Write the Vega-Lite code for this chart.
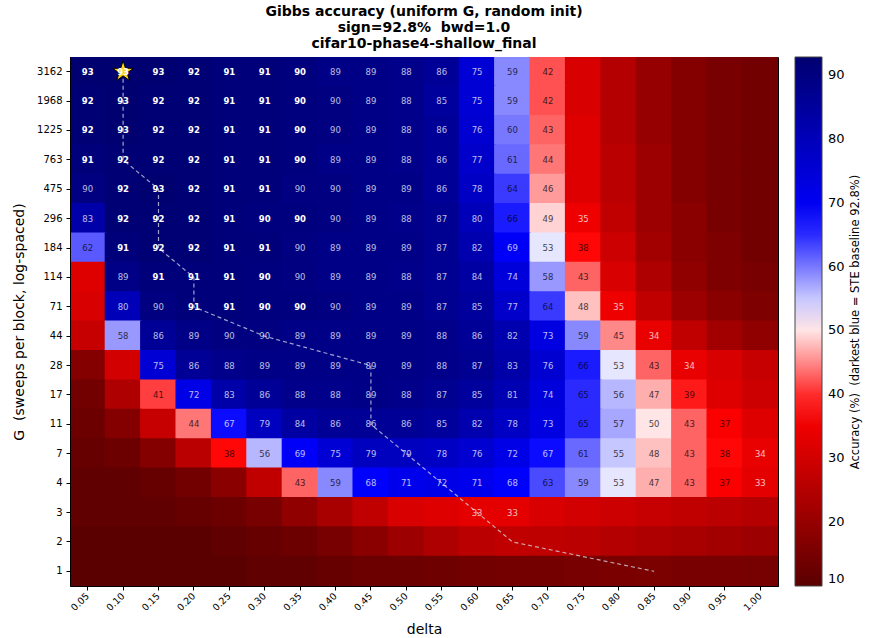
{
  "$schema": "https://vega.github.io/schema/vega-lite/v6.json",
  "width": 708,
  "height": 529,
  "autosize": {"type": "none"},
  "padding": {"left": 70, "top": 57, "right": 91, "bottom": 52},
  "background": "white",
  "config": {
    "font": "DejaVu Sans",
    "view": {"stroke": "black", "strokeWidth": 1},
    "axis": {"labelColor": "black", "tickColor": "black", "domainColor": "black", "titleColor": "black", "titleFontWeight": "normal", "grid": false, "tickSize": 4}
  },
  "title": {
    "text": ["Gibbs accuracy (uniform G, random init)", "sign=92.8%\u00a0 bwd=1.0", "cifar10-phase4-shallow_final"],
    "fontSize": 14, "fontWeight": "bold", "lineHeight": 16, "anchor": "middle", "offset": 6, "color": "black"
  },
  "datasets": {
    "cells": [
      {"G":3162,"d":"0.05","a":93},{"G":3162,"d":"0.10","a":93.2},{"G":3162,"d":"0.15","a":93},{"G":3162,"d":"0.20","a":92},{"G":3162,"d":"0.25","a":91},{"G":3162,"d":"0.30","a":91},{"G":3162,"d":"0.35","a":90.3},{"G":3162,"d":"0.40","a":89},{"G":3162,"d":"0.45","a":89},{"G":3162,"d":"0.50","a":88},{"G":3162,"d":"0.55","a":86},{"G":3162,"d":"0.60","a":75},{"G":3162,"d":"0.65","a":59},{"G":3162,"d":"0.70","a":42},{"G":3162,"d":"0.75","a":31},{"G":3162,"d":"0.80","a":25},{"G":3162,"d":"0.85","a":20},{"G":3162,"d":"0.90","a":17},{"G":3162,"d":"0.95","a":15},{"G":3162,"d":"1.00","a":14},
      {"G":1968,"d":"0.05","a":92},{"G":1968,"d":"0.10","a":93},{"G":1968,"d":"0.15","a":92},{"G":1968,"d":"0.20","a":92},{"G":1968,"d":"0.25","a":91},{"G":1968,"d":"0.30","a":91},{"G":1968,"d":"0.35","a":90.3},{"G":1968,"d":"0.40","a":89.8},{"G":1968,"d":"0.45","a":89},{"G":1968,"d":"0.50","a":88},{"G":1968,"d":"0.55","a":85},{"G":1968,"d":"0.60","a":75},{"G":1968,"d":"0.65","a":59},{"G":1968,"d":"0.70","a":42},{"G":1968,"d":"0.75","a":31},{"G":1968,"d":"0.80","a":25},{"G":1968,"d":"0.85","a":20},{"G":1968,"d":"0.90","a":17},{"G":1968,"d":"0.95","a":15},{"G":1968,"d":"1.00","a":14},
      {"G":1225,"d":"0.05","a":92},{"G":1225,"d":"0.10","a":93},{"G":1225,"d":"0.15","a":92},{"G":1225,"d":"0.20","a":92},{"G":1225,"d":"0.25","a":91},{"G":1225,"d":"0.30","a":91},{"G":1225,"d":"0.35","a":90.3},{"G":1225,"d":"0.40","a":89.8},{"G":1225,"d":"0.45","a":89},{"G":1225,"d":"0.50","a":88},{"G":1225,"d":"0.55","a":86},{"G":1225,"d":"0.60","a":76},{"G":1225,"d":"0.65","a":60},{"G":1225,"d":"0.70","a":43},{"G":1225,"d":"0.75","a":32},{"G":1225,"d":"0.80","a":25},{"G":1225,"d":"0.85","a":20},{"G":1225,"d":"0.90","a":17},{"G":1225,"d":"0.95","a":15},{"G":1225,"d":"1.00","a":14},
      {"G":763,"d":"0.05","a":91},{"G":763,"d":"0.10","a":92},{"G":763,"d":"0.15","a":92},{"G":763,"d":"0.20","a":92},{"G":763,"d":"0.25","a":91},{"G":763,"d":"0.30","a":91},{"G":763,"d":"0.35","a":90.3},{"G":763,"d":"0.40","a":89},{"G":763,"d":"0.45","a":89},{"G":763,"d":"0.50","a":88},{"G":763,"d":"0.55","a":86},{"G":763,"d":"0.60","a":77},{"G":763,"d":"0.65","a":61},{"G":763,"d":"0.70","a":44},{"G":763,"d":"0.75","a":32},{"G":763,"d":"0.80","a":26},{"G":763,"d":"0.85","a":21},{"G":763,"d":"0.90","a":17},{"G":763,"d":"0.95","a":15},{"G":763,"d":"1.00","a":14},
      {"G":475,"d":"0.05","a":89.8},{"G":475,"d":"0.10","a":92},{"G":475,"d":"0.15","a":93},{"G":475,"d":"0.20","a":92},{"G":475,"d":"0.25","a":91},{"G":475,"d":"0.30","a":91},{"G":475,"d":"0.35","a":89.8},{"G":475,"d":"0.40","a":89.8},{"G":475,"d":"0.45","a":89},{"G":475,"d":"0.50","a":89},{"G":475,"d":"0.55","a":86},{"G":475,"d":"0.60","a":78},{"G":475,"d":"0.65","a":64},{"G":475,"d":"0.70","a":46},{"G":475,"d":"0.75","a":32},{"G":475,"d":"0.80","a":26},{"G":475,"d":"0.85","a":21},{"G":475,"d":"0.90","a":17},{"G":475,"d":"0.95","a":15},{"G":475,"d":"1.00","a":14},
      {"G":296,"d":"0.05","a":83},{"G":296,"d":"0.10","a":92},{"G":296,"d":"0.15","a":92},{"G":296,"d":"0.20","a":92},{"G":296,"d":"0.25","a":91},{"G":296,"d":"0.30","a":90.3},{"G":296,"d":"0.35","a":90.3},{"G":296,"d":"0.40","a":89.8},{"G":296,"d":"0.45","a":89},{"G":296,"d":"0.50","a":88},{"G":296,"d":"0.55","a":87},{"G":296,"d":"0.60","a":80},{"G":296,"d":"0.65","a":66},{"G":296,"d":"0.70","a":49},{"G":296,"d":"0.75","a":35},{"G":296,"d":"0.80","a":27},{"G":296,"d":"0.85","a":21},{"G":296,"d":"0.90","a":18},{"G":296,"d":"0.95","a":15},{"G":296,"d":"1.00","a":14},
      {"G":184,"d":"0.05","a":62},{"G":184,"d":"0.10","a":91},{"G":184,"d":"0.15","a":92},{"G":184,"d":"0.20","a":92},{"G":184,"d":"0.25","a":91},{"G":184,"d":"0.30","a":91},{"G":184,"d":"0.35","a":89.8},{"G":184,"d":"0.40","a":89},{"G":184,"d":"0.45","a":89},{"G":184,"d":"0.50","a":89},{"G":184,"d":"0.55","a":87},{"G":184,"d":"0.60","a":82},{"G":184,"d":"0.65","a":69},{"G":184,"d":"0.70","a":53},{"G":184,"d":"0.75","a":38},{"G":184,"d":"0.80","a":29},{"G":184,"d":"0.85","a":22},{"G":184,"d":"0.90","a":18},{"G":184,"d":"0.95","a":16},{"G":184,"d":"1.00","a":14},
      {"G":114,"d":"0.05","a":32},{"G":114,"d":"0.10","a":89},{"G":114,"d":"0.15","a":91},{"G":114,"d":"0.20","a":91},{"G":114,"d":"0.25","a":91},{"G":114,"d":"0.30","a":90.3},{"G":114,"d":"0.35","a":89.8},{"G":114,"d":"0.40","a":89},{"G":114,"d":"0.45","a":89},{"G":114,"d":"0.50","a":88},{"G":114,"d":"0.55","a":87},{"G":114,"d":"0.60","a":84},{"G":114,"d":"0.65","a":74},{"G":114,"d":"0.70","a":58},{"G":114,"d":"0.75","a":43},{"G":114,"d":"0.80","a":31},{"G":114,"d":"0.85","a":24},{"G":114,"d":"0.90","a":19},{"G":114,"d":"0.95","a":16},{"G":114,"d":"1.00","a":15},
      {"G":71,"d":"0.05","a":31},{"G":71,"d":"0.10","a":80},{"G":71,"d":"0.15","a":89.8},{"G":71,"d":"0.20","a":91},{"G":71,"d":"0.25","a":91},{"G":71,"d":"0.30","a":90.3},{"G":71,"d":"0.35","a":90.3},{"G":71,"d":"0.40","a":89.8},{"G":71,"d":"0.45","a":89},{"G":71,"d":"0.50","a":89},{"G":71,"d":"0.55","a":87},{"G":71,"d":"0.60","a":85},{"G":71,"d":"0.65","a":77},{"G":71,"d":"0.70","a":64},{"G":71,"d":"0.75","a":48},{"G":71,"d":"0.80","a":35},{"G":71,"d":"0.85","a":27},{"G":71,"d":"0.90","a":21},{"G":71,"d":"0.95","a":18},{"G":71,"d":"1.00","a":16},
      {"G":44,"d":"0.05","a":28},{"G":44,"d":"0.10","a":58},{"G":44,"d":"0.15","a":86},{"G":44,"d":"0.20","a":89},{"G":44,"d":"0.25","a":89.8},{"G":44,"d":"0.30","a":89.8},{"G":44,"d":"0.35","a":89},{"G":44,"d":"0.40","a":89},{"G":44,"d":"0.45","a":89},{"G":44,"d":"0.50","a":89},{"G":44,"d":"0.55","a":88},{"G":44,"d":"0.60","a":86},{"G":44,"d":"0.65","a":82},{"G":44,"d":"0.70","a":73},{"G":44,"d":"0.75","a":59},{"G":44,"d":"0.80","a":45},{"G":44,"d":"0.85","a":34},{"G":44,"d":"0.90","a":27},{"G":44,"d":"0.95","a":22},{"G":44,"d":"1.00","a":19},
      {"G":28,"d":"0.05","a":17},{"G":28,"d":"0.10","a":30},{"G":28,"d":"0.15","a":75},{"G":28,"d":"0.20","a":86},{"G":28,"d":"0.25","a":88},{"G":28,"d":"0.30","a":89},{"G":28,"d":"0.35","a":89},{"G":28,"d":"0.40","a":89},{"G":28,"d":"0.45","a":89},{"G":28,"d":"0.50","a":89},{"G":28,"d":"0.55","a":88},{"G":28,"d":"0.60","a":87},{"G":28,"d":"0.65","a":83},{"G":28,"d":"0.70","a":76},{"G":28,"d":"0.75","a":66},{"G":28,"d":"0.80","a":53},{"G":28,"d":"0.85","a":43},{"G":28,"d":"0.90","a":34},{"G":28,"d":"0.95","a":31},{"G":28,"d":"1.00","a":28},
      {"G":17,"d":"0.05","a":14},{"G":17,"d":"0.10","a":24},{"G":17,"d":"0.15","a":41},{"G":17,"d":"0.20","a":72},{"G":17,"d":"0.25","a":83},{"G":17,"d":"0.30","a":86},{"G":17,"d":"0.35","a":88},{"G":17,"d":"0.40","a":88},{"G":17,"d":"0.45","a":89},{"G":17,"d":"0.50","a":88},{"G":17,"d":"0.55","a":87},{"G":17,"d":"0.60","a":85},{"G":17,"d":"0.65","a":81},{"G":17,"d":"0.70","a":74},{"G":17,"d":"0.75","a":65},{"G":17,"d":"0.80","a":56},{"G":17,"d":"0.85","a":47},{"G":17,"d":"0.90","a":39},{"G":17,"d":"0.95","a":32},{"G":17,"d":"1.00","a":29},
      {"G":11,"d":"0.05","a":13},{"G":11,"d":"0.10","a":17},{"G":11,"d":"0.15","a":28},{"G":11,"d":"0.20","a":44},{"G":11,"d":"0.25","a":67},{"G":11,"d":"0.30","a":79},{"G":11,"d":"0.35","a":84},{"G":11,"d":"0.40","a":86},{"G":11,"d":"0.45","a":86},{"G":11,"d":"0.50","a":86},{"G":11,"d":"0.55","a":85},{"G":11,"d":"0.60","a":82},{"G":11,"d":"0.65","a":78},{"G":11,"d":"0.70","a":73},{"G":11,"d":"0.75","a":65},{"G":11,"d":"0.80","a":57},{"G":11,"d":"0.85","a":50},{"G":11,"d":"0.90","a":43},{"G":11,"d":"0.95","a":37},{"G":11,"d":"1.00","a":32},
      {"G":7,"d":"0.05","a":12},{"G":7,"d":"0.10","a":13},{"G":7,"d":"0.15","a":17},{"G":7,"d":"0.20","a":26},{"G":7,"d":"0.25","a":38},{"G":7,"d":"0.30","a":56},{"G":7,"d":"0.35","a":69},{"G":7,"d":"0.40","a":75},{"G":7,"d":"0.45","a":79},{"G":7,"d":"0.50","a":79},{"G":7,"d":"0.55","a":78},{"G":7,"d":"0.60","a":76},{"G":7,"d":"0.65","a":72},{"G":7,"d":"0.70","a":67},{"G":7,"d":"0.75","a":61},{"G":7,"d":"0.80","a":55},{"G":7,"d":"0.85","a":48},{"G":7,"d":"0.90","a":43},{"G":7,"d":"0.95","a":38},{"G":7,"d":"1.00","a":34},
      {"G":4,"d":"0.05","a":11},{"G":4,"d":"0.10","a":11},{"G":4,"d":"0.15","a":12},{"G":4,"d":"0.20","a":14},{"G":4,"d":"0.25","a":18},{"G":4,"d":"0.30","a":27},{"G":4,"d":"0.35","a":43},{"G":4,"d":"0.40","a":59},{"G":4,"d":"0.45","a":68},{"G":4,"d":"0.50","a":71},{"G":4,"d":"0.55","a":72},{"G":4,"d":"0.60","a":71},{"G":4,"d":"0.65","a":68},{"G":4,"d":"0.70","a":63},{"G":4,"d":"0.75","a":59},{"G":4,"d":"0.80","a":53},{"G":4,"d":"0.85","a":47},{"G":4,"d":"0.90","a":43},{"G":4,"d":"0.95","a":37},{"G":4,"d":"1.00","a":33},
      {"G":3,"d":"0.05","a":11},{"G":3,"d":"0.10","a":11},{"G":3,"d":"0.15","a":11},{"G":3,"d":"0.20","a":12},{"G":3,"d":"0.25","a":13},{"G":3,"d":"0.30","a":15},{"G":3,"d":"0.35","a":19},{"G":3,"d":"0.40","a":23},{"G":3,"d":"0.45","a":27},{"G":3,"d":"0.50","a":31},{"G":3,"d":"0.55","a":32},{"G":3,"d":"0.60","a":33.2},{"G":3,"d":"0.65","a":33},{"G":3,"d":"0.70","a":31},{"G":3,"d":"0.75","a":30},{"G":3,"d":"0.80","a":29},{"G":3,"d":"0.85","a":28},{"G":3,"d":"0.90","a":27},{"G":3,"d":"0.95","a":26},{"G":3,"d":"1.00","a":25},
      {"G":2,"d":"0.05","a":10},{"G":2,"d":"0.10","a":10},{"G":2,"d":"0.15","a":10},{"G":2,"d":"0.20","a":10},{"G":2,"d":"0.25","a":11},{"G":2,"d":"0.30","a":12},{"G":2,"d":"0.35","a":13},{"G":2,"d":"0.40","a":15},{"G":2,"d":"0.45","a":18},{"G":2,"d":"0.50","a":21},{"G":2,"d":"0.55","a":24},{"G":2,"d":"0.60","a":26},{"G":2,"d":"0.65","a":27},{"G":2,"d":"0.70","a":26.8},{"G":2,"d":"0.75","a":26},{"G":2,"d":"0.80","a":25},{"G":2,"d":"0.85","a":24},{"G":2,"d":"0.90","a":23},{"G":2,"d":"0.95","a":22},{"G":2,"d":"1.00","a":21},
      {"G":1,"d":"0.05","a":10},{"G":1,"d":"0.10","a":10},{"G":1,"d":"0.15","a":10},{"G":1,"d":"0.20","a":10},{"G":1,"d":"0.25","a":10},{"G":1,"d":"0.30","a":11},{"G":1,"d":"0.35","a":11},{"G":1,"d":"0.40","a":12},{"G":1,"d":"0.45","a":13},{"G":1,"d":"0.50","a":13},{"G":1,"d":"0.55","a":13.5},{"G":1,"d":"0.60","a":14},{"G":1,"d":"0.65","a":14.3},{"G":1,"d":"0.70","a":14.5},{"G":1,"d":"0.75","a":15},{"G":1,"d":"0.80","a":15.3},{"G":1,"d":"0.85","a":15.5},{"G":1,"d":"0.90","a":15.2},{"G":1,"d":"0.95","a":15},{"G":1,"d":"1.00","a":14.8}
    ],
    "path": [
      {"G":3162,"d":"0.10"},{"G":1968,"d":"0.10"},{"G":1225,"d":"0.10"},{"G":763,"d":"0.10"},{"G":475,"d":"0.15"},{"G":296,"d":"0.15"},{"G":184,"d":"0.15"},{"G":114,"d":"0.20"},{"G":71,"d":"0.20"},{"G":44,"d":"0.30"},{"G":28,"d":"0.45"},{"G":17,"d":"0.45"},{"G":11,"d":"0.45"},{"G":7,"d":"0.50"},{"G":4,"d":"0.55"},{"G":3,"d":"0.60"},{"G":2,"d":"0.65"},{"G":1,"d":"0.85"}
    ],
    "best": [{"G":3162,"d":"0.10","a":93.2}]
  },
  "layer": [
    {
      "data": {"name": "cells"},
      "mark": {"type": "rect", "strokeWidth": 0, "width": {"band": 1.04}, "height": {"band": 1.06}, "clip": true},
      "encoding": {
        "x": {"field": "d", "type": "ordinal", "scale": {"paddingInner": 0, "paddingOuter": 0},
              "axis": {"title": "delta", "titleFontSize": 14, "titlePadding": 10, "labelAngle": -45, "labelAlign": "right", "labelBaseline": "middle", "labelFontSize": 9.5, "labelPadding": 4}},
        "y": {"field": "G", "type": "ordinal", "sort": "descending", "scale": {"paddingInner": 0, "paddingOuter": 0},
              "axis": {"title": "G\u00a0 (sweeps per block, log-spaced)", "titleFontSize": 14, "titlePadding": 10, "labelFontSize": 10, "labelPadding": 4}},
        "color": {"field": "a", "type": "quantitative",
          "scale": {"domain": [10, 37.6, 51.4, 67.7, 92.8], "range": ["#5a0000", "#ff0000", "#ffffff", "#0000ff", "#000070"], "clamp": true, "interpolate": "rgb"},
          "legend": {"type": "gradient", "title": "Accuracy (%)\u00a0 (darkest blue = STE baseline 92.8%)", "orient": "right", "offset": 17, "direction": "vertical",
            "gradientLength": 529, "gradientThickness": 27, "values": [10, 20, 30, 40, 50, 60, 70, 80, 90],
            "labelFontSize": 13, "labelColor": "black", "labelOffset": 6, "titleOrient": "right", "titleAnchor": "middle", "titleLimit": 700,
            "titleFontSize": 11.5, "titleFontWeight": "normal", "titleColor": "black", "gradientStrokeColor": "#444", "gradientStrokeWidth": 1,
            "encode": {"title": {"update": {"angle": {"value": 270}, "baseline": {"value": "top"}}}}}}
      }
    },
    {
      "data": {"name": "path"},
      "mark": {"type": "line", "color": "#d8d8e8", "strokeDash": [4, 3], "strokeWidth": 1.2, "opacity": 0.75},
      "encoding": {
        "x": {"field": "d", "type": "ordinal"},
        "y": {"field": "G", "type": "ordinal", "sort": "descending"},
        "order": {"field": "G", "type": "quantitative", "sort": "descending"}
      }
    },
    {
      "data": {"name": "best"},
      "mark": {"type": "point", "shape": "M0,-1L0.2245,-0.309L0.951,-0.309L0.363,0.118L0.588,0.809L0,0.382L-0.588,0.809L-0.363,0.118L-0.951,-0.309L-0.2245,-0.309Z", "size": 480, "filled": true, "fill": "#ffd21a", "stroke": "black", "strokeWidth": 1, "opacity": 1},
      "encoding": {
        "x": {"field": "d", "type": "ordinal"},
        "y": {"field": "G", "type": "ordinal", "sort": "descending"}
      }
    },
    {
      "data": {"name": "cells"},
      "transform": [{"filter": "datum.a >= 32.5 && datum.a < 90"}],
      "mark": {"type": "text", "fontSize": 8.5, "baseline": "middle", "align": "center"},
      "encoding": {
        "x": {"field": "d", "type": "ordinal"},
        "y": {"field": "G", "type": "ordinal", "sort": "descending"},
        "text": {"field": "a", "type": "quantitative", "format": ".0f"},
        "color": {"condition": {"test": "datum.a >= 66.5 || datum.a < 36.5", "value": "#ffffff"}, "value": "#000000"},
        "opacity": {"value": 0.72}
      }
    },
    {
      "data": {"name": "cells"},
      "transform": [{"filter": "datum.a >= 90"}],
      "mark": {"type": "text", "fontSize": 8.5, "fontWeight": "bold", "baseline": "middle", "align": "center", "color": "#ffffff"},
      "encoding": {
        "x": {"field": "d", "type": "ordinal"},
        "y": {"field": "G", "type": "ordinal", "sort": "descending"},
        "text": {"field": "a", "type": "quantitative", "format": ".0f"}
      }
    }
  ]
}
